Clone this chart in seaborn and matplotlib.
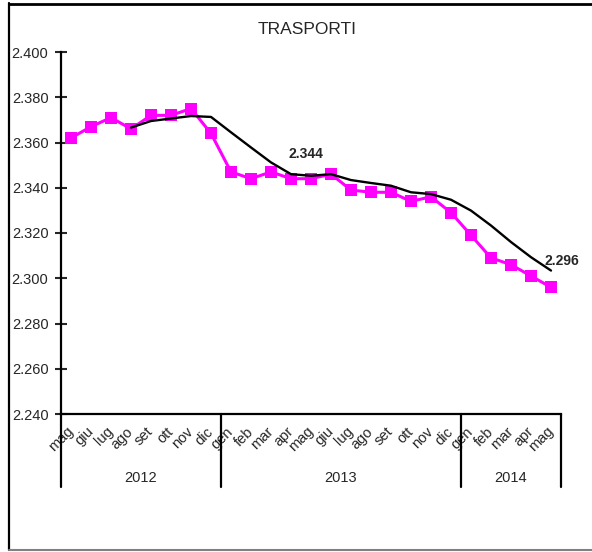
import numpy as np
import pandas as pd
import seaborn as sns
import matplotlib.pyplot as plt
from matplotlib.lines import Line2D

# data
months = ["mag", "giu", "lug", "ago", "set", "ott", "nov", "dic",
          "gen", "feb", "mar", "apr", "mag", "giu", "lug", "ago", "set", "ott", "nov", "dic",
          "gen", "feb", "mar", "apr", "mag"]
years = ["2012", "2013", "2014"]
year_counts = [8, 12, 5]
prezzi = [2.362, 2.367, 2.371, 2.366, 2.372, 2.372, 2.375, 2.364,
          2.347, 2.344, 2.347, 2.344, 2.344, 2.346, 2.339, 2.338, 2.338, 2.334, 2.336, 2.329,
          2.319, 2.309, 2.306, 2.301, 2.296]
# trend line starts at ago 2012
trend_start = 3
trend = [2.3666, 2.3695, 2.3706, 2.3717, 2.3713,
         2.3645, 2.3578, 2.3512, 2.3460, 2.3453, 2.3460, 2.3434, 2.3421, 2.3409, 2.3380, 2.3372, 2.3347,
         2.3299, 2.3233, 2.3160, 2.3093, 2.3034]

df = pd.DataFrame({"pos": np.arange(len(months)), "prezzo": prezzi})
df_t = pd.DataFrame({"pos": np.arange(trend_start, trend_start + len(trend)), "trend": trend})

sns.set_style("white")
plt.rcParams["font.family"] = ["Liberation Sans", "DejaVu Sans"]

fig = plt.figure(figsize=(5.92, 5.52), dpi=100)
ax = fig.add_axes([61 / 592, 1 - 414 / 552, 500 / 592, 362 / 552])

sns.lineplot(data=df, x="pos", y="prezzo", ax=ax, color="#FF00FF", lw=2.2,
             marker="s", markersize=8, markeredgewidth=0, zorder=3)
sns.lineplot(data=df_t, x="pos", y="trend", ax=ax, color="black", lw=1.7, zorder=4)

ax.set_xlim(-0.5, len(months) - 0.5)
ax.set_ylim(2.240, 2.400)
ax.set_yticks(np.arange(2.240, 2.4001, 0.020))
ax.set_yticklabels([f"{v:.3f}" for v in np.arange(2.240, 2.4001, 0.020)], fontsize=10.5)
ax.tick_params(axis="y", direction="inout", length=8, width=1.5, pad=5, left=True)
ax.set_xticks(df["pos"])
ax.set_xticklabels(months, rotation=45, ha="right", va="center",
                   rotation_mode="anchor", fontsize=10.5)
ax.tick_params(axis="x", length=0, pad=11)
ax.set_xlabel("")
ax.set_ylabel("")
for s in ["top", "right"]:
    ax.spines[s].set_visible(False)
for s in ["left", "bottom"]:
    ax.spines[s].set_linewidth(1.6)
    ax.spines[s].set_color("black")

# year separators and labels under the axis
trans = ax.get_xaxis_transform()
edges = np.concatenate([[0], np.cumsum(year_counts)]) - 0.5
for e in edges:
    ax.add_line(Line2D([e, e], [0, -73 / 362], transform=trans, color="black",
                       lw=1.6, clip_on=False))
for y, a, b in zip(years, edges[:-1], edges[1:]):
    ax.text((a + b) / 2, -64 / 362, y, transform=trans, ha="center", va="center",
            fontsize=10.5)

ax.annotate("2.344", (12, prezzi[12]), xytext=(-4, 18), textcoords="offset points",
            ha="center", va="center", fontsize=10, fontweight="bold")
ax.annotate("2.296", (24, prezzi[24]), xytext=(8, 19), textcoords="offset points",
            ha="center", va="center", fontsize=10, fontweight="bold")

fig.text(307 / 592, 1 - 30 / 552, "TRASPORTI", ha="center", va="center", fontsize=12.5)

# outer frame
fig.add_artist(Line2D([9 / 592, 9 / 592], [2 / 552, 1 - 3 / 552], color="black", lw=1.6))
fig.add_artist(Line2D([9 / 592, 1], [1 - 4 / 552, 1 - 4 / 552], color="black", lw=2))
fig.add_artist(Line2D([9 / 592, 1], [2 / 552, 2 / 552], color="#808080", lw=1.5))

plt.savefig("out.png", dpi=100)
